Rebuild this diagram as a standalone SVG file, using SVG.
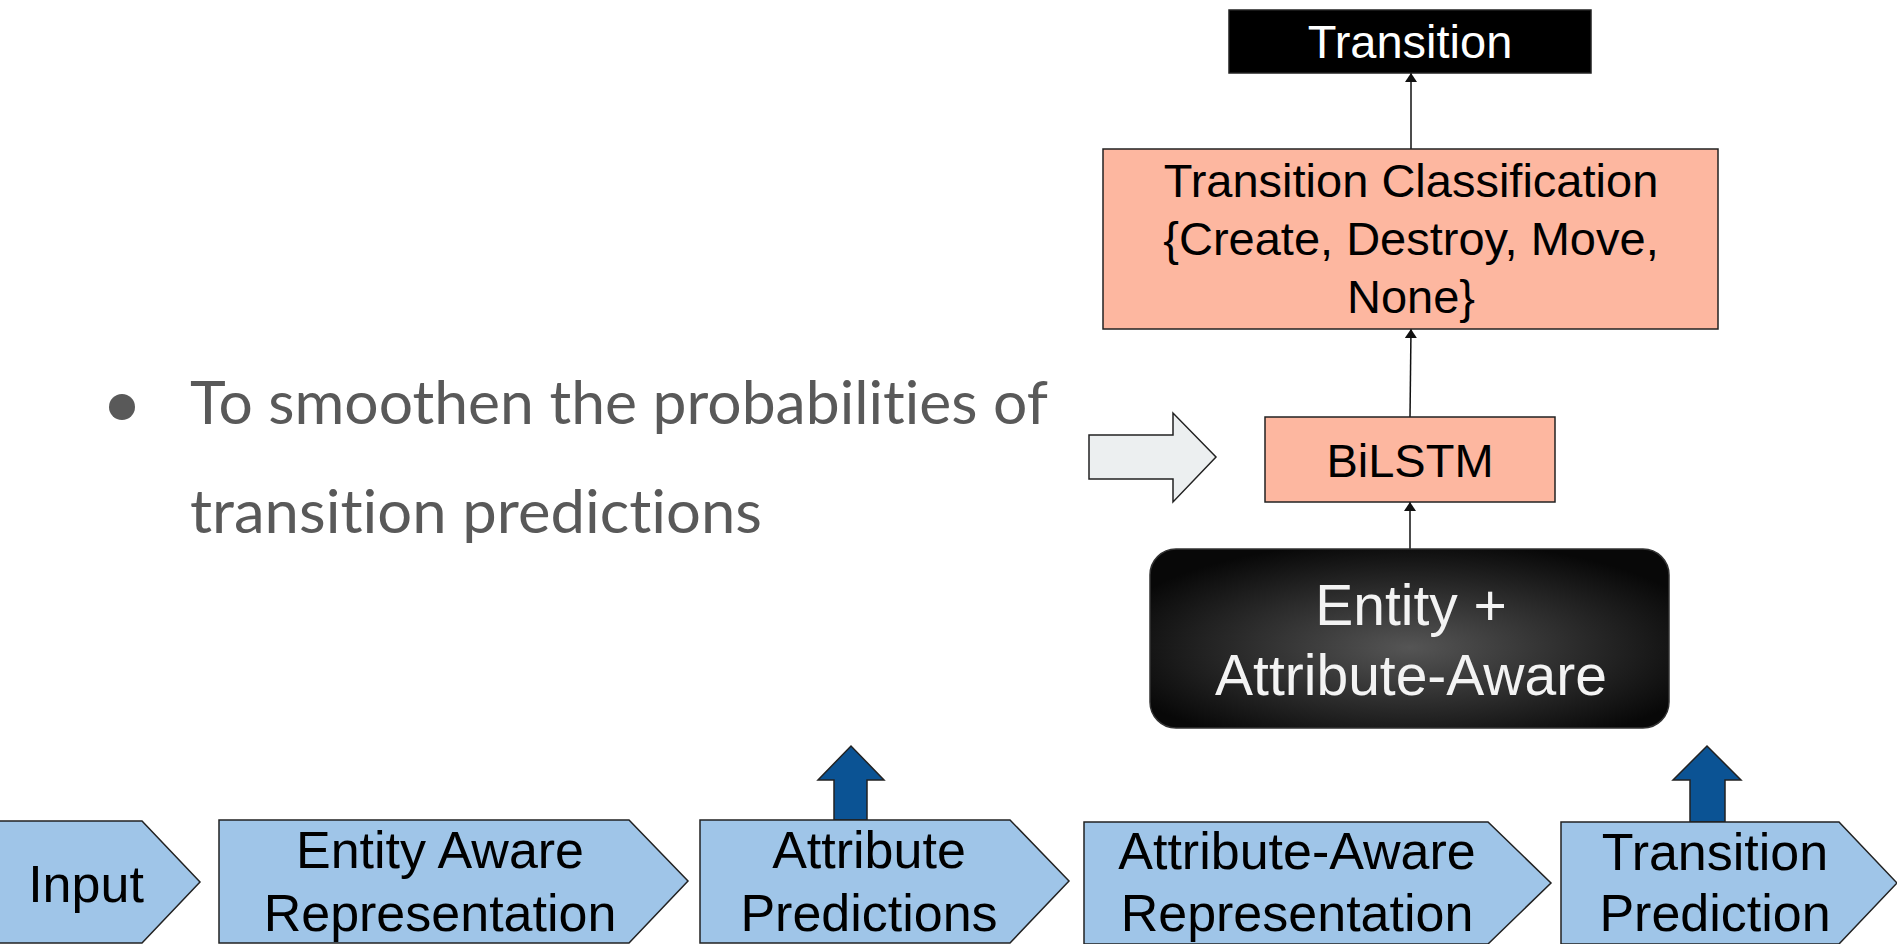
<svg xmlns="http://www.w3.org/2000/svg" width="1897" height="944" viewBox="0 0 1897 944">
<style>
.t{font-family:"Liberation Sans",Arial,sans-serif;text-anchor:middle;fill:#000}
.sal{fill:#fdb7a0;stroke:#222;stroke-width:1.5}
.chev{fill:#9fc5e8;stroke:#222;stroke-width:1.5}
.up{fill:#0b5394;stroke:#222;stroke-width:1.5}
.con{stroke:#111;stroke-width:1.5;fill:none;marker-end:url(#ah)}
.bul{font-family:Lato,"Open Sans",sans-serif;fill:#595959;font-size:60px;font-variant-ligatures:none;font-feature-settings:"liga" 0,"dlig" 0}
</style>
<defs>
<marker id="ah" viewBox="0 0 10 10" refX="10" refY="5" markerWidth="9" markerHeight="12" markerUnits="userSpaceOnUse" orient="auto" preserveAspectRatio="none">
<path d="M0,0 L10,5 L0,10 z" fill="#111"/>
</marker>
<radialGradient id="rg" cx="0.5" cy="0.55" r="0.6">
<stop offset="0" stop-color="#555"/>
<stop offset="1" stop-color="#080808"/>
</radialGradient>
</defs>
<rect width="1897" height="944" fill="#fff"/>
<g id="bullet">
<circle cx="122" cy="407" r="13" fill="#595959"/>
<text class="bul" x="190" y="424" textLength="858" lengthAdjust="spacingAndGlyphs">To smoothen the probabilities of</text>
<text class="bul" x="190" y="533" textLength="572" lengthAdjust="spacingAndGlyphs">transition predictions</text>
</g>
<g id="connectors">
<line class="con" x1="1411" y1="149" x2="1411" y2="73"/>
<line class="con" x1="1410" y1="417" x2="1411" y2="329"/>
<line class="con" x1="1410" y1="549" x2="1410" y2="502"/>
</g>
<g id="transition">
<rect x="1229" y="10" width="362" height="63" fill="#000" stroke="#222" stroke-width="1.5"/>
<text class="t" x="1410" y="58" font-size="47" style="fill:#fff">Transition</text>
</g>
<g id="classification">
<rect class="sal" x="1103" y="149" width="615" height="180"/>
<text class="t" x="1411" y="197" font-size="47">Transition Classification</text>
<text class="t" x="1411" y="255" font-size="47">{Create, Destroy, Move,</text>
<text class="t" x="1411" y="313" font-size="47">None}</text>
</g>
<g id="bilstm">
<rect class="sal" x="1265" y="417" width="290" height="85"/>
<text class="t" x="1410" y="477" font-size="47">BiLSTM</text>
</g>
<g id="grayarrow">
<polygon points="1089,435 1173,435 1173,413 1216,457 1173,502 1173,479 1089,479" fill="#eceff0" stroke="#222" stroke-width="1.5"/>
</g>
<g id="entityattr">
<rect x="1150" y="549" width="519" height="179" rx="26" ry="26" fill="url(#rg)" stroke="#333" stroke-width="1.5"/>
<text class="t" x="1411" y="625" font-size="57" style="fill:#f3f3f3">Entity +</text>
<text class="t" x="1411" y="695" font-size="57" style="fill:#f3f3f3">Attribute-Aware</text>
</g>
<g id="input">
<polygon class="chev" points="-2,821 142,821 200,882 142,943 -2,943"/>
<text class="t" x="86" y="902" font-size="52">Input</text>
</g>
<g id="entityaware">
<polygon class="chev" points="219,820 629,820 688,881 629,943 219,943"/>
<text class="t" x="440" y="868" font-size="52">Entity Aware</text>
<text class="t" x="440" y="931" font-size="52">Representation</text>
</g>
<g id="attrpred">
<polygon class="up" points="834,820 834,780 818,780 851,746 884,780 867,780 867,820"/>
<polygon class="chev" points="700,820 1010,820 1069,881 1010,943 700,943"/>
<text class="t" x="869" y="868" font-size="52">Attribute</text>
<text class="t" x="869" y="931" font-size="52">Predictions</text>
</g>
<g id="attraware">
<polygon class="chev" points="1084,822 1488,822 1551,883 1488,944 1084,944"/>
<text class="t" x="1297" y="869" font-size="52">Attribute-Aware</text>
<text class="t" x="1297" y="931" font-size="52">Representation</text>
</g>
<g id="transpred">
<polygon class="up" points="1690,822 1690,780 1673,780 1707,746 1741,780 1725,780 1725,822"/>
<polygon class="chev" points="1561,822 1839,822 1897,883 1839,944 1561,944"/>
<text class="t" x="1715" y="870" font-size="52">Transition</text>
<text class="t" x="1715" y="931" font-size="52">Prediction</text>
</g>
</svg>
